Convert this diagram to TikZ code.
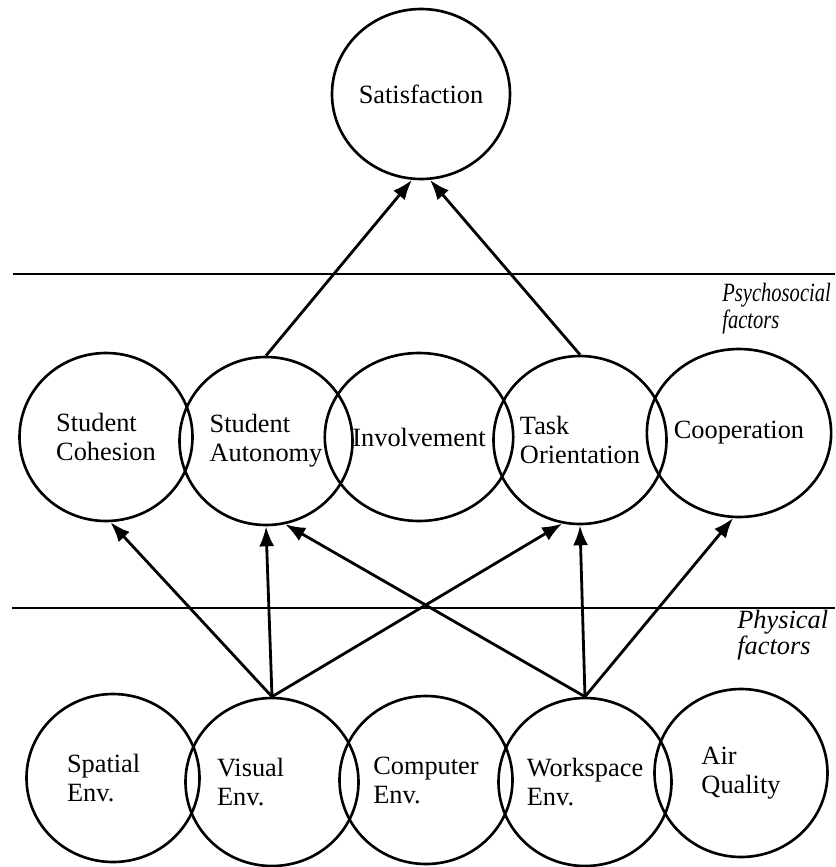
\documentclass[tikz,border=0pt]{standalone}
\usepackage{graphicx}
\usepackage{fontspec}
\setmainfont{Liberation Serif}
\usetikzlibrary{shapes.geometric, arrows.meta}

\begin{document}
\begin{tikzpicture}[
    factor/.style={ellipse, draw, line width=1.5pt, minimum width=3.46cm, minimum height=3.36cm,
        inner sep=0pt, align=left, font=\fontsize{15}{16.5}\selectfont},
    level/.style={font=\fontsize{15}{16}\selectfont\itshape,
        align=left, inner sep=0pt, anchor=base west},
    link/.style={->, line width=1.6pt},
    >={Latex[length=4mm,width=3mm]}]
\useasboundingbox (0,0) rectangle (16.7,-17.34);

% separators between the levels
\draw[line width=1.6pt] (0.26,-5.48) -- (16.7,-5.48);
\draw[line width=1.6pt] (0.24,-12.16) -- (16.7,-12.16);
\node[level] (psy) at (14.44,-6.56) {\scalebox{0.78}[1]{Psychosocial}\\[-1.2pt]\scalebox{0.78}[1]{factors}};
\node[level] (phy) at (14.74,-13.08) {Physical\\[-1.2pt]factors};

% outcome
\node[factor, minimum width=3.56cm, minimum height=3.4cm] (sat) at (8.42,-1.88) {Satisfaction};

% psychosocial factors
\node[factor] (coh) at (2.12,-8.74) {Student\\Cohesion};
\node[factor] (aut) at (5.32,-8.82) {Student\\Autonomy};
\node[factor] (inv) at (8.38,-8.74) {Involvement};
\node[factor] (task) at (11.6,-8.8) {Task\\Orientation};
\node[factor] (coop) at (14.78,-8.66) {Cooperation};

% physical factors
\node[factor, text width=1.84cm] (spa) at (2.26,-15.56) {Spatial\\Env.};
\node[factor, text width=2.2cm] (vis) at (5.44,-15.64) {Visual\\Env.};
\node[factor] (comp) at (8.52,-15.6) {Computer\\Env.};
\node[factor] (work) at (11.7,-15.64) {Workspace\\Env.};
\node[factor] (air) at (14.82,-15.46) {Air\\Quality};

% paths
\draw[link] (aut.north) -- (sat.-96);
\draw[link] (task.north) -- (sat.-84);
\draw[link] (vis.north) -- (coh.-87);
\draw[link] (vis.north) -- (aut.south);
\draw[link] (vis.north) -- (task.-102);
\draw[link] (work.north) -- (aut.-77);
\draw[link] (work.north) -- (task.south);
\draw[link] (work.north) -- (coop.-94);
\end{tikzpicture}
\end{document}
